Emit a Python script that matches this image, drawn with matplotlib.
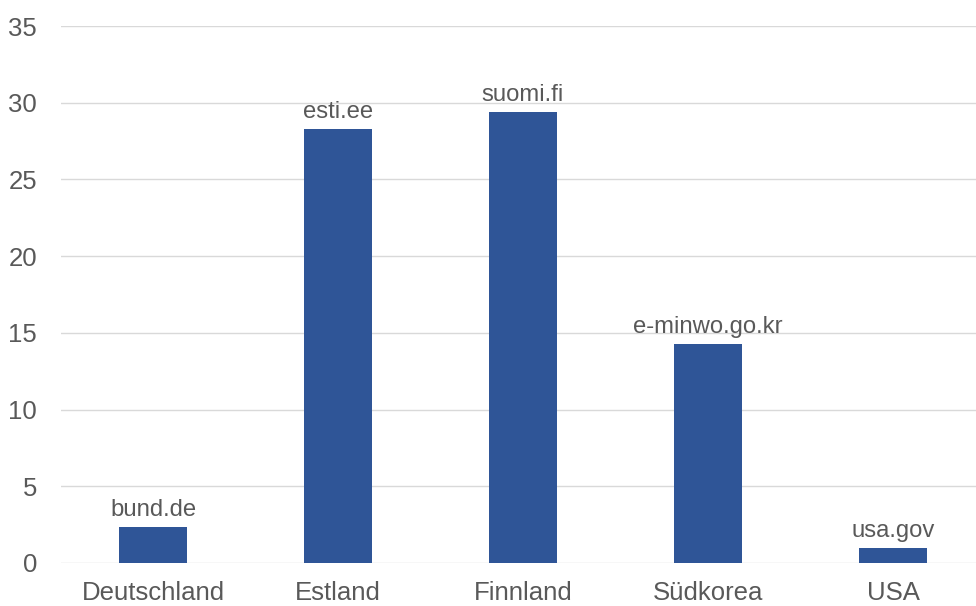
import matplotlib.pyplot as plt

plt.rcParams['font.family'] = ['Liberation Sans', 'DejaVu Sans']

countries = ['Deutschland', 'Estland', 'Finnland', 'Südkorea', 'USA']
portals = ['bund.de', 'esti.ee', 'suomi.fi', 'e-minwo.go.kr', 'usa.gov']
values = [2.35, 28.3, 29.4, 14.3, 1.0]

text_color = '#595959'
bar_color = '#2F5597'

fig = plt.figure(figsize=(9.76, 6.06), dpi=100)
ax = fig.add_axes([60.5 / 976, 43 / 606, 925 / 976, 537 / 606])

x = range(len(countries))
bars = ax.bar(x, values, width=0.367, color=bar_color, zorder=3)

for xi, v, lab in zip(x, values, portals):
    ax.annotate(lab, (xi, v), xytext=(0, 4), textcoords='offset points',
                ha='center', va='bottom', fontsize=17.2, color=text_color)

ax.set_xlim(-0.5, len(countries) - 0.5)
ax.set_ylim(0, 35)
ax.set_yticks(range(0, 36, 5))
ax.set_xticks(list(x))
ax.set_xticklabels(countries)
ax.tick_params(axis='both', length=0, labelsize=18.5, labelcolor=text_color)
ax.tick_params(axis='y', pad=17)
ax.tick_params(axis='x', pad=13)

ax.grid(axis='y', color='#D9D9D9', linewidth=1, zorder=0)
for s in ax.spines.values():
    s.set_visible(False)

fig.savefig('out.png', dpi=100)
